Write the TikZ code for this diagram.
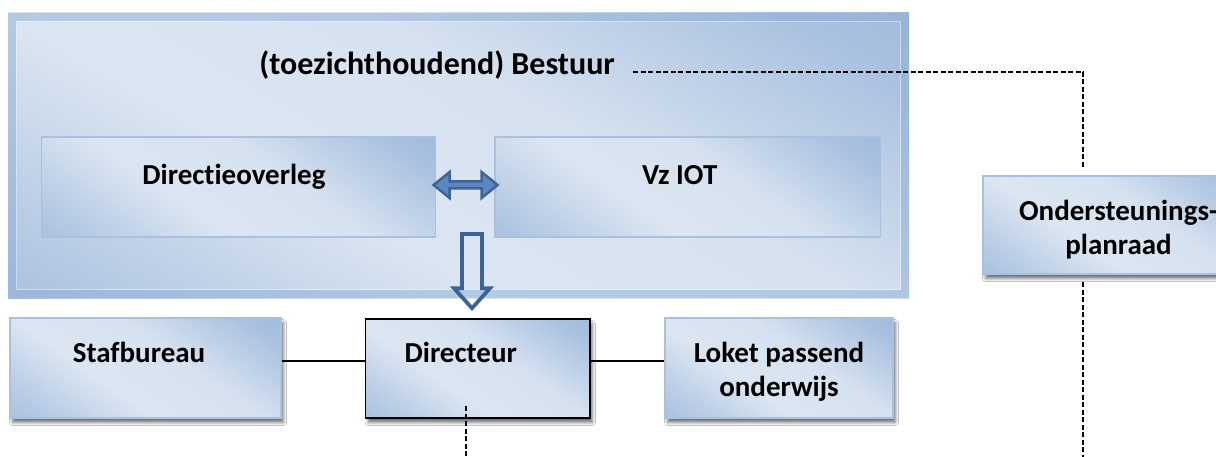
\documentclass[tikz,border=0pt]{standalone}
\usepackage{fontspec}
\setmainfont{Carlito}[Ligatures=NoCommon]
\usetikzlibrary{shadows.blur,calc}
\definecolor{dk}{HTML}{8FAED6}
\definecolor{lt}{HTML}{DCE6F2}
\definecolor{edgec}{HTML}{A9C0DF}
\definecolor{arr}{HTML}{3D6496}
\definecolor{arrfill}{HTML}{5B86BF}
\pgfdeclareverticalshading{band}{100bp}{color(0bp)=(dk); color(18bp)=(dk!60!lt); color(40bp)=(lt); color(58bp)=(lt!92!dk); color(78bp)=(dk!65!lt); color(100bp)=(dk)}
\begin{document}
\begin{tikzpicture}[x=1pt,y=-1pt,
  txt/.style={font=\fontsize{29}{34}\selectfont\bfseries, inner sep=0pt},
  one/.style={text height=0.7em, text depth=0.2em+#1},
  box/.style={txt, shading=band, shading angle=-35, draw=edgec, line width=1.2pt, align=center},
  shad/.style={blur shadow={shadow xshift=2.5pt, shadow yshift=-4.5pt, shadow blur radius=3pt, shadow opacity=55}},
  dsh/.style={draw=black, line width=1.3pt, dash pattern=on 5pt off 2.5pt},
  conn/.style={draw=black, line width=1.5pt}]
\useasboundingbox (0,0) rectangle (1216,457);
\fill[white] (0,0) rectangle (1216,457);
% big box
\node (bestuurbox) [shading=band, shading angle=-30, minimum width=901pt, minimum height=285pt, inner sep=0pt] at (458.5,155.5) {};
\draw[dk, line width=8pt, opacity=0.5] ([shift={(4pt,-4pt)}]bestuurbox.north west) rectangle ([shift={(-4pt,4pt)}]bestuurbox.south east);
\draw[white, line width=1pt, opacity=0.4] ([shift={(9pt,-9pt)}]bestuurbox.north west) rectangle ([shift={(-9pt,9pt)}]bestuurbox.south east);
\node (bestuur) [txt, font=\fontsize{32}{38}\selectfont\bfseries, one=0pt] at (437,72) {(toezichthoudend) Bestuur};
% inner boxes
\node (dirov) [box, one=10pt, minimum width=394pt, minimum height=100pt] at (238.5,187) {Directieoverleg\hspace*{9pt}};
\node (vz) [box, one=10pt, minimum width=385.5pt, minimum height=100pt] at (687.75,187) {Vz IOT\hspace*{16pt}};
% lower boxes
\node (staf) [box, shad, one=17pt, minimum width=271pt, minimum height=100pt] at (145.5,368) {Stafbureau\hspace*{13pt}};
\node (dirc) [box, shad, one=17pt, draw=black, line width=1.6pt, minimum width=224.5pt, minimum height=99pt] at (477.75,368.5) {Directeur\hspace*{34pt}};
\node (loket) [box, shad, minimum width=228pt, minimum height=100pt] at (779,368) {\rule{0pt}{28pt}Loket passend\\onderwijs};
\node (ond) [box, shad, minimum width=271pt, minimum height=98pt] at (1118.5,225) {\rule{0pt}{30pt}Ondersteunings-\\planraad};
% double arrow between Directieoverleg and Vz IOT
\coordinate (dal) at ([xshift=-2.5pt,yshift=2pt]dirov.east);
\draw[arr, fill=arrfill, line width=2.5pt, line join=miter]
  (dal) -- ++(16,-13) -- ++(0,9.5) -- ++(32,0) -- ++(0,-9.5) -- ++(16,13)
  -- ++(-16,13) -- ++(0,-9.5) -- ++(-32,0) -- ++(0,9.5) -- cycle;
% hollow down arrow from Bestuur to Directeur
\coordinate (dat) at (472,234);
\coordinate (dab) at ([yshift=10pt]dirc.north -| dat);
\draw[arr, line width=3.8pt, line join=miter]
  ([xshift=-10pt]dat) -- ([xshift=-10pt,yshift=20pt]dab) -- ([xshift=-18pt,yshift=20pt]dab) -- (dab)
  -- ([xshift=18pt,yshift=20pt]dab) -- ([xshift=10pt,yshift=20pt]dab) -- ([xshift=10pt]dat) -- cycle;
% solid connectors
\coordinate (ly) at (0,361);
\draw[conn] (staf.east |- ly) -- (dirc.west |- ly);
\draw[conn] (dirc.east |- ly) -- (loket.west |- ly);
% dashed connectors
\coordinate (ondin) at (1083,167);
\coordinate (ondout) at (1083,282);
\coordinate (bot) at (0,457);
\coordinate (dirdash) at (466,406);
\draw[dsh] (bestuur.east -| 633,0) -- (bestuur.east -| ondin) -- (ondin);
\draw[dsh] (ondout) -- (ondout |- bot);
\draw[dsh] (dirdash) -- (dirdash |- bot);
\end{tikzpicture}
\end{document}
